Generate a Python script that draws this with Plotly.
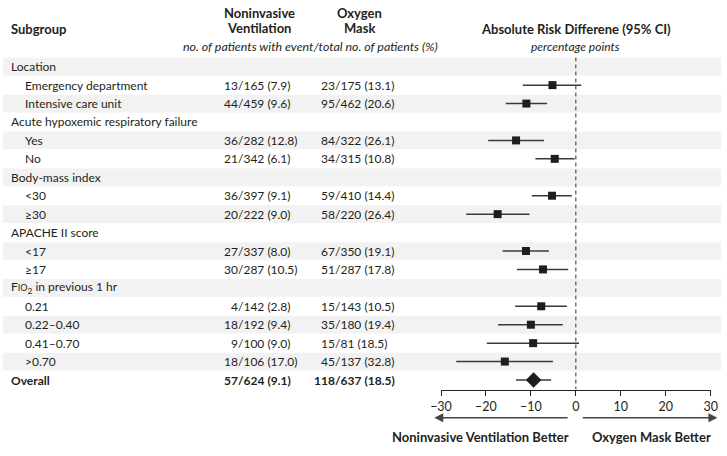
import plotly.graph_objects as go

# ---------------- data ----------------
labels = ["Location", "Emergency department", "Intensive care unit",
          "Acute hypoxemic respiratory failure", "Yes", "No",
          "Body-mass index", "<30", "≥30",
          "APACHE II score", "<17", "≥17",
          "F<span style='font-size:9px'>IO</span><sub>2</sub> in previous 1 hr",
          "0.21", "0.22–0.40", "0.41–0.70", ">0.70",
          "Overall"]
is_header = [True, False, False, True, False, False, True, False, False,
             True, False, False, True, False, False, False, False, False]

nv_event = [None, 13, 44, None, 36, 21, None, 36, 20, None, 27, 30, None, 4, 18, 9, 18, 57]
nv_total = [None, 165, 459, None, 282, 342, None, 397, 222, None, 337, 287, None, 142, 192, 100, 106, 624]
nv_pct = [None, 7.9, 9.6, None, 12.8, 6.1, None, 9.1, 9.0, None, 8.0, 10.5, None, 2.8, 9.4, 9.0, 17.0, 9.1]

om_event = [None, 23, 95, None, 84, 34, None, 59, 58, None, 67, 51, None, 15, 35, 15, 45, 118]
om_total = [None, 175, 462, None, 322, 315, None, 410, 220, None, 350, 287, None, 143, 180, 81, 137, 637]
om_pct = [None, 13.1, 20.6, None, 26.1, 10.8, None, 14.4, 26.4, None, 19.1, 17.8, None, 10.5, 19.4, 18.5, 32.8, 18.5]

est = [None, -5.2, -11.0, None, -13.3, -4.7, None, -5.3, -17.4, None, -11.1, -7.3, None, -7.7, -10.0, -9.5, -15.8, -9.4]
ci_lo = [None, -11.8, -15.6, None, -19.5, -9.0, None, -9.8, -24.4, None, -16.3, -13.1, None, -13.5, -17.3, -19.8, -26.6, -13.3]
ci_hi = [None, 1.2, -6.4, None, -7.1, -0.3, None, -0.9, -10.3, None, -6.0, -1.7, None, -2.0, -2.9, 0.7, -5.1, -5.5]

tick_vals = [-30, -20, -10, 0, 10, 20, 30]
tick_text = ["−30", "−20", "−10", "0", "10", "20", "30"]

# ---------------- layout helpers ----------------
W, H = 727, 456
FONT = "Lato"
TXT = "#231f20"
Y0PIX, PITCH = 66.7, 18.43
AXIS_PIX = 389.5


def px(x):
    return x / W


def py(p):
    return (H - p) / H


def yrow(pix):
    return (pix - Y0PIX) / PITCH


n = len(labels)
fig = go.Figure()

# shaded alternating bands
shapes = []
for i in range(n):
    if i % 2 == 0:
        shapes.append(dict(type="rect", xref="paper", yref="y", x0=px(3), x1=px(721),
                           y0=i - 0.48, y1=i + 0.48, fillcolor="#f2f2f2",
                           line=dict(width=0), layer="below"))
# dashed zero line
shapes.append(dict(type="line", xref="x", yref="y", x0=0, x1=0, y0=-0.5, y1=yrow(AXIS_PIX),
                   line=dict(color="#333", width=1, dash="4px,3px")))

# CI + squares (subgroups)
idx = [i for i in range(n) if est[i] is not None and labels[i] != "Overall"]
fig.add_trace(go.Scatter(
    x=[est[i] for i in idx], y=idx, mode="markers",
    marker=dict(symbol="square", size=8, color="#1e1e1e"),
    error_x=dict(type="data", symmetric=False,
                 array=[ci_hi[i] - est[i] for i in idx],
                 arrayminus=[est[i] - ci_lo[i] for i in idx],
                 width=0, thickness=1.5, color="#3a3a3a"),
    showlegend=False, hoverinfo="skip", cliponaxis=False))
# overall diamond
io = labels.index("Overall")
fig.add_trace(go.Scatter(
    x=[est[io]], y=[io], mode="markers",
    marker=dict(symbol="diamond", size=12, color="#1e1e1e"),
    error_x=dict(type="data", symmetric=False, array=[ci_hi[io] - est[io]],
                 arrayminus=[est[io] - ci_lo[io]], width=0, thickness=1.5, color="#3a3a3a"),
    showlegend=False, hoverinfo="skip", cliponaxis=False))

ann = []


def txt(x, y, s, anchor="left", bold=False, italic=False, size=12, xref="paper", yref="y"):
    if bold:
        s = "<b>" + s + "</b>"
    if italic:
        s = "<i>" + s + "</i>"
    ann.append(dict(x=x, y=y, xref=xref, yref=yref, text=s, showarrow=False,
                    xanchor=anchor, yanchor="middle", borderpad=0, borderwidth=0,
                    font=dict(family=FONT, size=size, color=TXT)))


# headers
txt(px(11), yrow(29.3), "Subgroup", bold=True, size=13)
txt(px(259), yrow(12.7), "Noninvasive", anchor="center", bold=True, size=13)
txt(px(259), yrow(28.3), "Ventilation", anchor="center", bold=True, size=13)
txt(px(359), yrow(12.7), "Oxygen", anchor="center", bold=True, size=13)
txt(px(359), yrow(28.3), "Mask", anchor="center", bold=True, size=13)
txt(px(310), yrow(46.7), "no. of patients with event/total no. of patients (%)", anchor="center",
    italic=True, size=12.4)
txt(0, yrow(29.3), "Absolute Risk Differene (95% CI)", anchor="center", bold=True, size=13, xref="x")
txt(0, yrow(46.7), "percentage points", anchor="center", italic=True, xref="x")

# rows
for i in range(n):
    bold = labels[i] == "Overall"
    x = 11 if (is_header[i] or bold) else 25
    txt(px(x), i, labels[i], bold=bold)
    if nv_event[i] is not None:
        txt(px(238), i, str(nv_event[i]), anchor="right", bold=bold)
        txt(px(238), i, "/%d (%.1f)" % (nv_total[i], nv_pct[i]), anchor="left", bold=bold)
        txt(px(335), i, str(om_event[i]), anchor="right", bold=bold)
        txt(px(335), i, "/%d (%.1f)" % (om_total[i], om_pct[i]), anchor="left", bold=bold)

# direction arrows below the axis
for x_tip, x_tail in [(-31.5, -1.5), (31.5, 1.2)]:
    ann.append(dict(x=x_tip, y=py(417.7), ax=x_tail, ay=0, xref="x", yref="paper",
                    axref="x", ayref="pixel", text="", showarrow=True, arrowhead=2,
                    arrowsize=1.2, arrowwidth=1.5, arrowcolor="#444"))
txt(-1.5, py(436.7), "Noninvasive Ventilation Better", anchor="right", bold=True, size=13,
    xref="x", yref="paper")
txt(3.5, py(436.7), "Oxygen Mask Better", anchor="left", bold=True, size=13,
    xref="x", yref="paper")

ydom0 = py(AXIS_PIX)
fig.update_layout(
    width=W, height=H, margin=dict(l=0, r=0, t=0, b=0, autoexpand=False),
    paper_bgcolor="white", plot_bgcolor="rgba(0,0,0,0)",
    shapes=shapes, annotations=ann,
    xaxis=dict(domain=[px(441), px(710.7)], range=[-30, 30],
               showline=True, linecolor="#222", linewidth=1,
               ticks="outside", ticklen=5, tickwidth=1, tickcolor="#222",
               tickvals=tick_vals, ticktext=tick_text, showgrid=False, zeroline=False,
               tickfont=dict(family=FONT, size=12.5, color=TXT), fixedrange=True,
               automargin=False),
    yaxis=dict(domain=[ydom0, 1], range=[yrow(AXIS_PIX), yrow(0)], visible=False,
               fixedrange=True, automargin=False),
)

fig.write_html("out.html", config={"displayModeBar": False},
               post_script="document.body.style.margin='0';document.body.style.padding='0';")
